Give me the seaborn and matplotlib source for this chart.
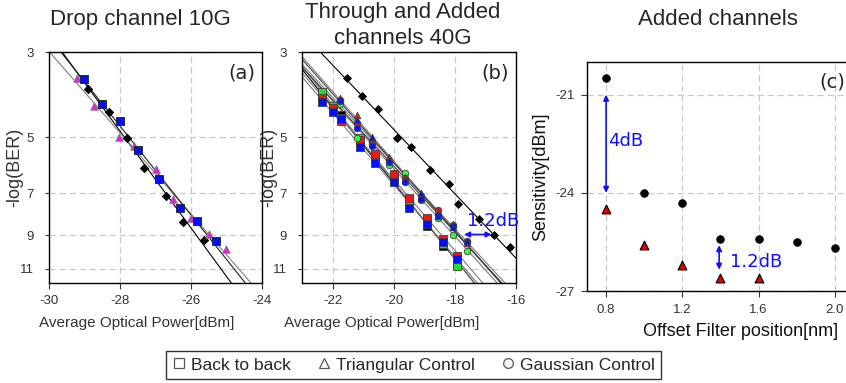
import numpy as np
import pandas as pd
import matplotlib
matplotlib.use("Agg")
import matplotlib.pyplot as plt
from matplotlib.lines import Line2D
from matplotlib.ticker import NullLocator
import seaborn as sns

# (a) Drop channel 10G
a_sq_x = [-29.01, -28.52, -28.0, -27.50, -26.90, -26.31, -25.82, -25.30]
a_sq_y = [3.53, 4.11, 4.54, 5.39, 6.44, 7.65, 8.27, 9.32]
a_tri_x = [-29.20, -28.72, -28.02, -27.61, -26.99, -26.51, -26.01, -25.50, -25.01]
a_tri_y = [3.51, 4.16, 5.00, 5.28, 6.06, 7.26, 8.14, 8.95, 9.80]
a_dia_x = [-28.89, -28.31, -27.81, -27.32, -26.71, -26.22, -25.63]
a_dia_y = [3.75, 4.30, 5.02, 6.01, 7.13, 8.31, 9.28]

# (b) Through and Added channels 40G
b_sq_x = [-22.35, -22.0, -21.72, -21.12, -20.62, -20.0, -19.5, -18.9, -18.38, -17.92]
b_sq_black = [3.90, 4.22, 4.38, 5.15, 5.68, 6.45, 7.35, 8.52, 9.60, 10.60]
b_sq_green = [3.82, 4.15, 4.45, 5.02, 5.60, 6.36, 7.44, 8.22, 9.50, 10.85]
b_sq_red = [3.96, 4.20, 4.53, 5.10, 5.52, 6.25, 7.22, 8.10, 9.20, 10.20]
b_sq_blue = [4.05, 4.29, 4.49, 5.31, 5.83, 6.56, 7.63, 8.40, 9.40, 10.40]
b_ct_x = [-21.77, -21.19, -20.71, -20.15, -19.62, -19.11, -18.55, -18.05, -17.6]
b_circ_green = [4.10, 5.02, 5.20, 5.90, 6.21, 7.30, 8.10, 9.00, 9.92]
b_circ_red = [4.02, 4.59, 5.17, 5.72, 6.40, 7.10, 7.76, 8.45, 9.30]
b_circ_blue = [4.00, 4.74, 5.28, 5.80, 6.56, 7.26, 8.00, 8.52, 9.40]
b_tri_red = [3.95, 4.37, 5.05, 5.65, 6.35, 7.20, 7.80, 8.40, 9.46]
b_tri_blue = [4.00, 4.50, 4.99, 5.75, 6.45, 7.00, 8.05, 8.60, 9.35]
b_dia_x = [-21.53, -21.03, -20.51, -19.91, -19.42, -18.80, -18.20, -17.91, -17.21, -16.71, -16.20]
b_dia_y = [3.50, 3.91, 4.23, 5.02, 5.30, 6.10, 6.64, 7.48, 8.19, 9.00, 9.67]

# (c) Added channels
c_offset = [0.8, 1.0, 1.2, 1.4, 1.6, 1.8, 2.0]
c_gauss = [-20.5, -24.0, -24.3, -25.4, -25.4, -25.5, -25.7]
c_tri_offset = [0.8, 1.0, 1.2, 1.4, 1.6]
c_tri = [-24.5, -25.6, -26.2, -26.6, -26.6]

ber_ticks = [3, 5, 7, 9, 11]

sns.set_theme(style="ticks")
plt.rcParams['font.family'] = ['Liberation Sans', 'DejaVu Sans']
plt.rcParams['axes.edgecolor'] = 'black'
plt.rcParams['axes.linewidth'] = 1.0

fig = plt.figure(figsize=(8.46, 3.83), dpi=100)
ax_a = fig.add_axes([0.0579, 0.2611, 0.2518, 0.6031])
ax_b = fig.add_axes([0.3570, 0.2611, 0.2530, 0.6031])
ax_c = fig.add_axes([0.6939, 0.2402, 0.3109, 0.5979])

grid_kw = dict(color='#c8c8c8', linestyle=(0, (5, 3)), linewidth=0.9)
tick_col = '#333333'
blue_txt = '#1010ff'


def fit_line(ax, x, y, color, lw=0.8):
    # straight line in log(-log BER) vs power
    k, b = np.polyfit(x, np.log10(y), 1)
    xs = np.linspace(min(x) - 3, max(x) + 3, 50)
    ax.plot(xs, 10 ** (k * xs + b), color=color, lw=lw, zorder=2)


def dots(ax, x, y, marker, color, edge, size, lw=0.6):
    df = pd.DataFrame({'x': x, 'y': y})
    sns.scatterplot(data=df, x='x', y='y', ax=ax, marker=marker, color=color,
                    edgecolor=edge, s=size, linewidth=lw, zorder=3, legend=False)


def ber_axis(ax, xlim, xticks):
    ax.set_yscale('log')
    ax.set_ylim(12, 3)
    ax.set_yticks(ber_ticks)
    ax.set_yticklabels([str(t) for t in ber_ticks])
    ax.yaxis.set_minor_locator(NullLocator())
    ax.set_xlim(*xlim)
    ax.set_xticks(xticks)
    ax.set_xticklabels([str(t) for t in xticks])
    ax.grid(True, **grid_kw)
    ax.tick_params(axis='both', direction='out', length=4, width=0.8, pad=5,
                   labelsize=9.5, labelcolor=tick_col, color='#333333')
    ax.tick_params(axis='y', pad=8, length=3)
    ax.set_xlabel('Average Optical Power[dBm]', fontsize=11, color=tick_col)
    ax.set_ylabel('-log(BER)', fontsize=13, color=tick_col)


# ---- panel (a)
fit_line(ax_a, a_dia_x, a_dia_y, 'black')
fit_line(ax_a, a_tri_x, a_tri_y, '#808080')
fit_line(ax_a, a_sq_x, a_sq_y, '#202020')
dots(ax_a, a_dia_x, a_dia_y, 'D', 'black', 'black', 18)
dots(ax_a, a_tri_x, a_tri_y, '^', '#e020e0', '#808080', 30)
dots(ax_a, a_sq_x, a_sq_y, 's', '#0010ff', '#202020', 30)
ber_axis(ax_a, (-30, -24), [-30, -28, -26, -24])
ax_a.xaxis.set_label_coords(0.41, -0.145)
ax_a.yaxis.set_label_coords(-0.122, 0.5)
ax_a.text(0.427, 1.117, 'Drop channel 10G', transform=ax_a.transAxes,
          ha='center', va='baseline', fontsize=16)
ax_a.text(0.967, 0.95, '(a)', transform=ax_a.transAxes, ha='right', va='top',
          fontsize=14, family='DejaVu Sans')

# ---- panel (b)
sq_series = [(b_sq_black, 'black', 'black'), (b_sq_green, '#20e020', '#7a7a7a'),
             (b_sq_red, '#ff1010', '#7a7a7a'), (b_sq_blue, '#0010ff', '#7a7a7a')]
ct_series = [(b_circ_green, 'o', '#30ff30', '#7a7a7a'), (b_circ_red, 'o', '#ff1010', '#7a7a7a'),
             (b_tri_red, '^', '#ff1010', '#7a7a7a'), (b_circ_blue, 'o', '#0010ff', '#404040'),
             (b_tri_blue, '^', '#0010ff', '#404040')]
for ys, col, lc in sq_series:
    fit_line(ax_b, b_sq_x, ys, lc)
for ys, mk, col, lc in ct_series:
    fit_line(ax_b, b_ct_x, ys, lc)
fit_line(ax_b, b_dia_x, b_dia_y, 'black')
for ys, col, lc in sq_series:
    dots(ax_b, b_sq_x, ys, 's', col, '#404040', 30)
for ys, mk, col, lc in ct_series:
    dots(ax_b, b_ct_x, ys, mk, col, '#404040', 22)
dots(ax_b, b_dia_x, b_dia_y, 'D', 'black', 'black', 16)
ber_axis(ax_b, (-23, -16), [-22, -20, -18, -16])
ax_b.xaxis.set_label_coords(0.372, -0.145)
ax_b.yaxis.set_label_coords(-0.117, 0.5)
ax_b.text(0.47, 1.013, 'Through and Added\nchannels 40G', transform=ax_b.transAxes,
          ha='center', va='bottom', fontsize=16, linespacing=1.3)
ax_b.text(0.967, 0.95, '(b)', transform=ax_b.transAxes, ha='right', va='top',
          fontsize=14, family='DejaVu Sans')
ax_b.annotate('', xy=(-17.7, 8.97), xytext=(-16.8, 8.97),
              arrowprops=dict(arrowstyle='<|-|>', color=blue_txt, lw=1.2,
                              shrinkA=0, shrinkB=0, mutation_scale=8))
ax_b.text(-17.6, 8.27, '1.2dB', color=blue_txt, fontsize=13, family='DejaVu Sans',
          ha='left', va='center')

# ---- panel (c)
dots(ax_c, c_offset, c_gauss, 'o', 'black', 'black', 30)
dots(ax_c, c_tri_offset, c_tri, '^', '#e00000', 'black', 40, lw=0.8)
ax_c.set_xlim(0.7, 2.08)
ax_c.set_ylim(-27, -20)
ax_c.set_xticks([0.8, 1.2, 1.6, 2.0])
ax_c.set_xticklabels(['0.8', '1.2', '1.6', '2.0'])
ax_c.set_yticks([-27, -24, -21])
ax_c.set_yticklabels(['-27', '-24', '-21'])
ax_c.grid(True, **grid_kw)
ax_c.tick_params(axis='both', direction='out', length=4, width=0.8, pad=5,
                 labelsize=9.5, labelcolor=tick_col, color='#333333')
ax_c.set_xlabel('Offset Filter position[nm]', fontsize=13, color='#111111')
ax_c.set_ylabel('Sensitivity[dBm]', fontsize=13, color='#111111')
ax_c.xaxis.set_label_coords(0.582, -0.14)
ax_c.yaxis.set_label_coords(-0.144, 0.5)
ax_c.text(0.498, 1.162, 'Added channels', transform=ax_c.transAxes,
          ha='center', va='baseline', fontsize=16)
ax_c.text(0.98, 0.955, '(c)', transform=ax_c.transAxes, ha='right', va='top',
          fontsize=14, family='DejaVu Sans')
ax_c.annotate('', xy=(0.8, -21.0), xytext=(0.8, -24.0),
              arrowprops=dict(arrowstyle='<|-|>', color=blue_txt, lw=1.2,
                              shrinkA=0, shrinkB=0, mutation_scale=8))
ax_c.text(0.81, -22.4, '4dB', color=blue_txt, fontsize=13, family='DejaVu Sans',
          ha='left', va='center')
ax_c.annotate('', xy=(1.393, -25.6), xytext=(1.393, -26.35),
              arrowprops=dict(arrowstyle='<|-|>', color=blue_txt, lw=1.2,
                              shrinkA=0, shrinkB=0, mutation_scale=8))
ax_c.text(1.45, -26.1, '1.2dB', color=blue_txt, fontsize=13, family='DejaVu Sans',
          ha='left', va='center')

# legend at the bottom
handles = [Line2D([], [], ls='none', marker='s', mfc='none', mec='#555555', ms=7, mew=0.9),
           Line2D([], [], ls='none', marker='^', mfc='none', mec='#555555', ms=7, mew=0.9),
           Line2D([], [], ls='none', marker='o', mfc='none', mec='#555555', ms=7, mew=0.9)]
leg = fig.legend(handles, ['Back to back', 'Triangular Control', 'Gaussian Control'],
                 loc='center', bbox_to_anchor=(0.489, 0.047), ncol=3, fontsize=12.5,
                 frameon=True, fancybox=False, edgecolor='black', handlelength=0.8,
                 handletextpad=0.3, columnspacing=1.5, borderpad=0.35,
                 borderaxespad=0)
leg.get_frame().set_linewidth(1.0)

fig.savefig('out.png', dpi=100)
